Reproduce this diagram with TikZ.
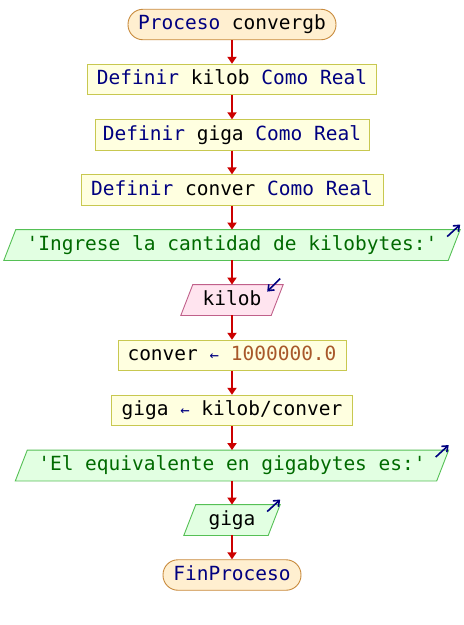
\documentclass[tikz,border=0pt]{standalone}
\usepackage{fontspec}
\setmonofont{DejaVu Sans Mono}
\usetikzlibrary{arrows.meta,backgrounds}

\definecolor{kwblue}{HTML}{000080}
\definecolor{strgreen}{HTML}{006A00}
\definecolor{numbrown}{HTML}{A8582A}
\definecolor{flowred}{HTML}{CC0000}
\definecolor{termfill}{HTML}{FFEFD0}
\definecolor{termdraw}{HTML}{C88A3C}
\definecolor{procfill}{HTML}{FFFFE0}
\definecolor{procdraw}{HTML}{C8C850}
\definecolor{outfill}{HTML}{E2FFE2}
\definecolor{outdraw}{HTML}{55C055}
\definecolor{infill}{HTML}{FFE4EF}
\definecolor{indraw}{HTML}{C0608A}

\newcommand\kw[1]{\textcolor{kwblue}{#1}}
\newcommand\str[1]{\textcolor{strgreen}{#1}}
\newcommand\num[1]{\textcolor{numbrown}{#1}}
\newcommand\asg{\textcolor{kwblue}{\scalebox{0.8}{←}}}

% parallelogram behind an I/O node: #1 node, #2 fill, #3 border
\newcommand\ioshape[3]{%
  \begin{scope}[on background layer]
    \draw[fill=#2,draw=#3,line width=0.9pt]
      ([xshift=-6pt]#1.south west) -- ([xshift=6pt]#1.north west) --
      ([xshift=6pt]#1.north east) -- ([xshift=-6pt]#1.south east) -- cycle;
  \end{scope}}

\tikzset{
  base/.style={font=\ttfamily\fontsize{19.5}{22}\selectfont, inner sep=0pt,
    minimum height=30.5pt, text height=14pt, text depth=4pt},
  term/.style={base, draw=termdraw, fill=termfill, line width=0.9pt, rounded corners=15pt},
  proc/.style={base, draw=procdraw, fill=procfill, line width=0.9pt},
  io/.style={base},
  flow/.style={draw=flowred, line width=1.8pt, -{Triangle[length=7pt,width=9pt]}},
  outmark/.style={draw=kwblue, line width=1.6pt, -{Straight Barb[length=5pt,width=8pt]}},
}

\begin{document}
\begin{tikzpicture}[x=1pt,y=1pt]
  \useasboundingbox (0,0) rectangle (464,-625);
  \begin{scope}[on background layer]
    \fill[white] (0,0) rectangle (464,-625);
  \end{scope}

  \node[term, minimum width=208pt] (start) at (232,-24.5) {\kw{Proceso} convergb};
  \node[proc, minimum width=289pt] (d1) at (232,-79.5) {\kw{Definir} kilob \kw{Como Real}};
  \node[proc, minimum width=274pt] (d2) at (232,-135) {\kw{Definir} giga \kw{Como Real}};
  \node[proc, minimum width=302pt] (d3) at (232,-190) {\kw{Definir} conver \kw{Como Real}};
  \node[io, minimum width=444pt] (o1) at (232,-245) {\str{'Ingrese la cantidad de kilobytes:'}};
  \node[io, minimum width=90pt] (i1) at (232,-300) {kilob};
  \node[proc, minimum width=228pt] (a1) at (232,-355.5) {conver \asg{} \num{1000000.0}};
  \node[proc, minimum width=241pt] (a2) at (232,-410.5) {giga \asg{} kilob/conver};
  \node[io, minimum width=421pt] (o2) at (232,-465.5) {\str{'El equivalente en gigabytes es:'}};
  \node[io, minimum width=84pt] (o3) at (232,-520) {giga};
  \node[term, minimum width=138pt] (stop) at (232,-575) {\kw{FinProceso}};

  \ioshape{o1}{outfill}{outdraw}
  \ioshape{i1}{infill}{indraw}
  \ioshape{o2}{outfill}{outdraw}
  \ioshape{o3}{outfill}{outdraw}

  % corner marks of the I/O blocks
  \coordinate (o1c) at ([xshift=6pt]o1.north east);
  \coordinate (i1c) at ([xshift=6pt]i1.north east);
  \coordinate (o2c) at ([xshift=6pt]o2.north east);
  \coordinate (o3c) at ([xshift=6pt]o3.north east);
  \draw[outmark] ([shift={(-13pt,-7pt)}]o1c) -- ([shift={(0pt,5pt)}]o1c);
  \draw[outmark] ([shift={(-3pt,6pt)}]i1c) -- ([shift={(-16pt,-7pt)}]i1c);
  \draw[outmark] ([shift={(-13pt,-7pt)}]o2c) -- ([shift={(0pt,5pt)}]o2c);
  \draw[outmark] ([shift={(-13pt,-7pt)}]o3c) -- ([shift={(0pt,5pt)}]o3c);

  \draw[flow] (start) -- (d1);
  \draw[flow] (d1) -- (d2);
  \draw[flow] (d2) -- (d3);
  \draw[flow] (d3) -- (o1);
  \draw[flow] (o1) -- (i1);
  \draw[flow] (i1) -- (a1);
  \draw[flow] (a1) -- (a2);
  \draw[flow] (a2) -- (o2);
  \draw[flow] (o2) -- (o3);
  \draw[flow] (o3) -- (stop);
\end{tikzpicture}
\end{document}
